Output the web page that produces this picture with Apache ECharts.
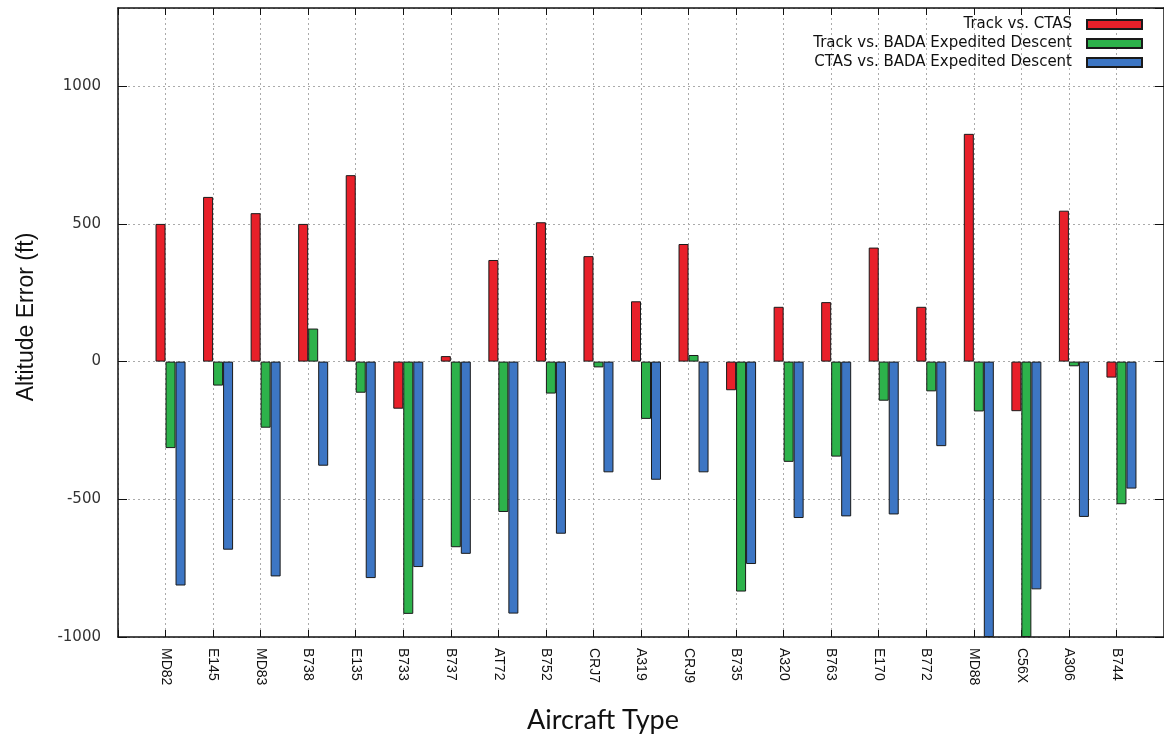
<!DOCTYPE html>
<html>
<head>
<meta charset="utf-8">
<title>Altitude Error by Aircraft Type</title>
<script src="https://cdn.jsdelivr.net/npm/echarts@6/dist/echarts.min.js"></script>
<style>
    html, body { margin: 0; padding: 0; background: #fff; }
    #chart { width: 1164px; height: 738px; }
</style>
</head>
<body>
<div id="chart"></div>
<script>
// values (ft)
const aircraft = ['MD82', 'E145', 'MD83', 'B738', 'E135', 'B733', 'B737', 'AT72', 'B752', 'CRJ7', 'A319',
    'CRJ9', 'B735', 'A320', 'B763', 'E170', 'B772', 'MD88', 'C56X', 'A306', 'B744'];
const trackVsCtas = [500, 598, 539, 500, 677, -171, 20, 369, 506, 383, 219, 427, -104, 199, 216, 414, 199, 827, -180, 548, -58];
const trackVsBada = [-314, -87, -240, 120, -113, -916, -674, -546, -116, -21, -208, 24, -835, -364, -345, -142, -108, -181, -1000, -17, -518];
const ctasVsBada = [-813, -683, -780, -378, -786, -746, -698, -915, -625, -402, -429, -402, -735, -568, -562, -555, -307, -1000, -827, -564, -461];
const seriesNames = ['Track vs. CTAS', 'Track vs. BADA Expedited Descent', 'CTAS vs. BADA Expedited Descent'];
const yTicks = [-1000, -500, 0, 500, 1000];

// gnuplot style: one empty slot on each side of the categories
const cats = ['', ...aircraft, ''];
const pad = arr => [null, ...arr, null];

const gridLine = { show: true, lineStyle: { color: '#aaa', type: [2, 3], width: 1 } };
const frame = { show: true, onZero: false, lineStyle: { color: '#111', width: 1.5 } };

const chart = echarts.init(document.getElementById('chart'));

const barStyle = color => ({ color: color, borderColor: '#1a1a1a', borderWidth: 1 });

chart.setOption({
    animation: false,
    backgroundColor: '#fff',
    grid: { left: 118, right: -4, top: 8, bottom: 101 },
    legend: {
        data: seriesNames,
        orient: 'vertical',
        right: 21,
        top: 17,
        padding: 0,
        align: 'right',
        icon: 'rect',
        itemWidth: 55,
        itemHeight: 9,
        itemGap: 4,
        textStyle: { fontFamily: 'DejaVu Sans', fontSize: 15, color: '#111', padding: [0, 10, 0, 0] }
    },
    xAxis: [{
        type: 'category',
        data: cats,
        boundaryGap: false,
        position: 'bottom',
        axisLine: frame,
        axisTick: { show: true, inside: true, length: 7, interval: 0, lineStyle: { color: '#111' } },
        axisLabel: {
            interval: 0, rotate: -90, margin: 11,
            fontFamily: 'Liberation Sans', fontSize: 14, color: '#111'
        },
        splitLine: Object.assign({ interval: 0 }, gridLine)
    }, {
        type: 'category',
        data: cats,
        boundaryGap: false,
        position: 'top',
        axisLine: frame,
        axisTick: { show: true, inside: true, length: 7, interval: 0, lineStyle: { color: '#111' } },
        axisLabel: { show: false },
        splitLine: { show: false }
    }],
    yAxis: [{
        type: 'value',
        min: -1000,
        max: 1284,
        interval: 500,
        position: 'left',
        axisLine: frame,
        axisTick: { show: true, inside: true, length: 9, lineStyle: { color: '#111' } },
        axisLabel: {
            margin: 17, showMaxLabel: false,
            fontFamily: 'DejaVu Sans', fontSize: 15, color: '#333',
            formatter: v => (yTicks.includes(v) ? String(v) : '')
        },
        splitLine: gridLine
    }, {
        type: 'value',
        min: -1000,
        max: 1284,
        interval: 500,
        position: 'right',
        axisLine: frame,
        axisTick: { show: true, inside: true, length: 9, lineStyle: { color: '#111' } },
        axisLabel: { show: false },
        splitLine: { show: false }
    }],
    graphic: [{
        type: 'text',
        x: 27, y: 317,
        rotation: Math.PI / 2,
        style: {
            text: 'Altitude Error (ft)',
            font: '23px "Liberation Sans"',
            fill: '#111',
            textAlign: 'center',
            textVerticalAlign: 'middle'
        }
    }, {
        type: 'text',
        x: 603, y: 720,
        style: {
            text: 'Aircraft Type',
            font: '27px Lato',
            fill: '#111',
            textAlign: 'center',
            textVerticalAlign: 'middle'
        }
    }],
    series: [
        // empty slot so the red bar ends on the tick, like gnuplot's clustered boxes
        { name: 'spacer', type: 'bar', data: [], barWidth: 10, barGap: '0%' },
        { name: seriesNames[0], type: 'bar', data: pad(trackVsCtas), barWidth: 10, barGap: '0%', itemStyle: barStyle('#e8202a') },
        { name: seriesNames[1], type: 'bar', data: pad(trackVsBada), barWidth: 10, barGap: '0%', itemStyle: barStyle('#2db24b') },
        { name: seriesNames[2], type: 'bar', data: pad(ctasVsBada), barWidth: 10, barGap: '0%', itemStyle: barStyle('#3d76c4') }
    ]
});
</script>
</body>
</html>
